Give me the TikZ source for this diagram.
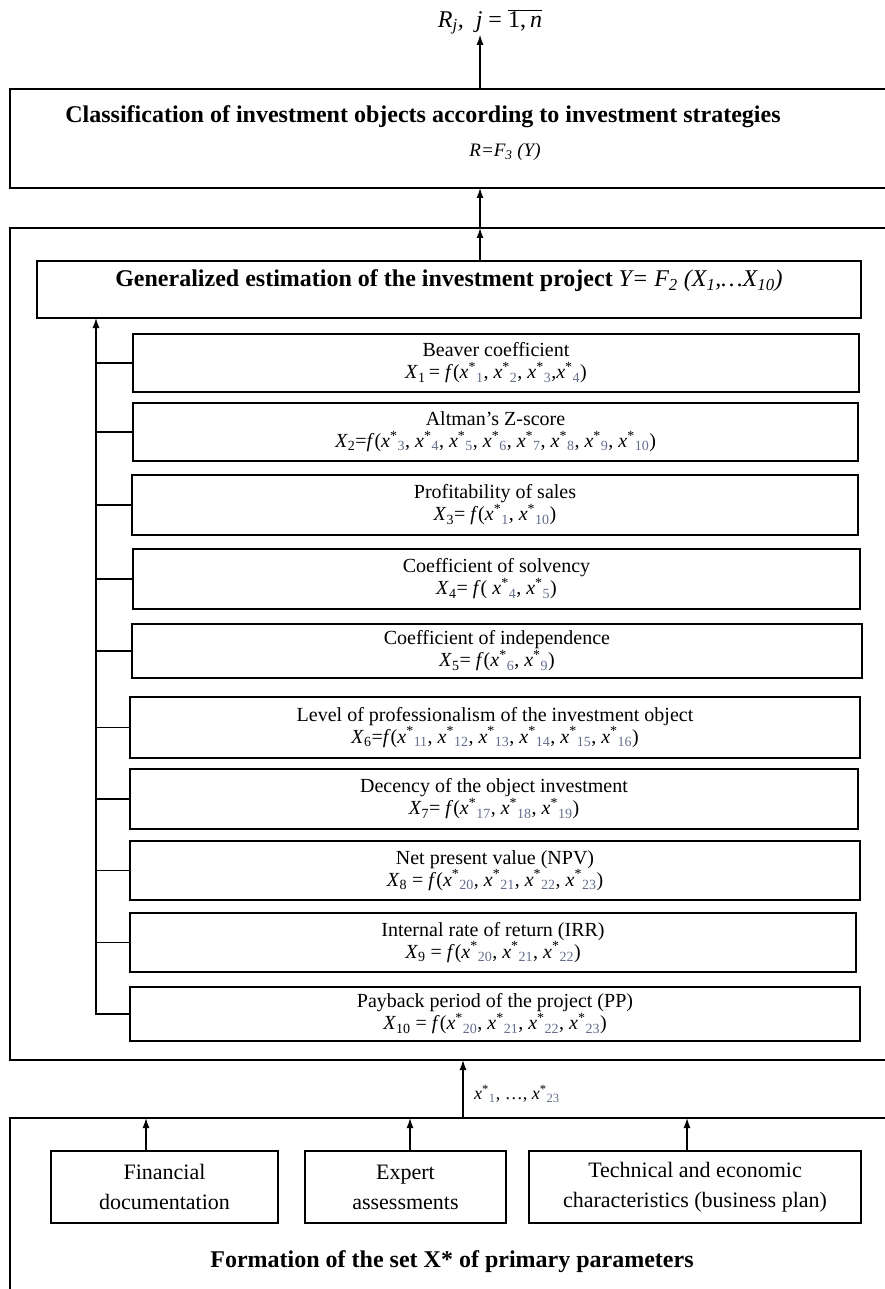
\documentclass[tikz,border=0pt]{standalone}
\usepackage{fontspec}
\setmainfont{Liberation Serif}
\usetikzlibrary{arrows.meta}
\definecolor{subgray}{RGB}{100,110,140}
\newcommand{\xs}[1]{\textit{x}\textsuperscript{*}\textsubscript{\textcolor{subgray}{#1}}}
\newcommand{\Xv}[1]{\textit{X}\textsubscript{#1}}
\newcommand{\fn}{\textit{f}}
\begin{document}
\begin{tikzpicture}[x=1pt,y=-1pt,
  outerbox/.style={draw, line width=2.6pt, anchor=north west, inner sep=0pt, outer sep=0pt},
  subbox/.style={draw, line width=1.4pt, anchor=north west, align=center, inner sep=1pt, outer sep=0pt,
    font=\fontsize{20}{22}\selectfont},
  srcbox/.style={draw, line width=1.4pt, anchor=north west, align=center, inner sep=1pt, outer sep=0pt,
    font=\fontsize{22}{30}\selectfont},
  arr/.style={line width=1.3pt, -{Latex[length=10pt,width=7pt]}},
  link/.style={line width=1.3pt},
  lbl/.style={inner sep=0pt}]
\useasboundingbox (0,0) rectangle (885,1289);

% top result label
\node[lbl, font=\fontsize{24}{26}\selectfont] (res) at (490,22)
  {\textit{R}\textsubscript{\textit{j}}\textit{,}\enspace \textit{j} = $\overline{\mbox{1,\,\textit{n}}}$};

% classification box
\node[outerbox, minimum width=890, minimum height=99] (cls) at (10,89) {};
\node[lbl, font=\fontsize{24}{26}\selectfont\bfseries] (clsT) at (423,117)
  {Classification of investment objects according to investment strategies};
\node[lbl, font=\fontsize{19}{21}\selectfont\itshape] (clsF) at (505,152) {R=F\textsubscript{3} (Y)};
\coordinate (ax) at (480,0);
\draw[arr] (cls.north -| ax) -- (res.south -| ax);

% outer estimation box
\node[outerbox, minimum width=890, minimum height=832] (est) at (10,228) {};
\draw[arr] (est.north -| ax) -- (cls.south -| ax);

\node[draw, line width=1.4pt, anchor=north west, inner sep=0pt, outer sep=0pt,
  minimum width=824, minimum height=57] (gen) at (37,261) {};
\node[lbl, font=\fontsize{24}{26}\selectfont] (genT) at (449,281)
  {\textbf{Generalized estimation of the investment project} \textit{Y= F\textsubscript{2} (X\textsubscript{1},\ldots X\textsubscript{10})}};
\draw[arr] (gen.north -| ax) -- (est.north -| ax);

% criteria boxes
\node[subbox, minimum width=726, minimum height=58] (b1) at (133,334)
  {Beaver coefficient\\ \Xv{1}\,= \fn(\xs{1}, \xs{2}, \xs{3},\xs{4})};
\node[subbox, minimum width=725, minimum height=58] (b2) at (133,403)
  {Altman's Z-score\\ \Xv{2}=\fn(\xs{3}, \xs{4},  \xs{5}, \xs{6}, \xs{7}, \xs{8}, \xs{9}, \xs{10})};
\node[subbox, minimum width=726, minimum height=60] (b3) at (132,475)
  {Profitability of sales\\ \Xv{3}= \fn(\xs{1}, \xs{10})};
\node[subbox, minimum width=727, minimum height=60] (b4) at (133,549)
  {Coefficient of solvency\\ \Xv{4}= \fn( \xs{4}, \xs{5})};
\node[subbox, minimum width=730, minimum height=54] (b5) at (132,624)
  {Coefficient of independence\\ \Xv{5}= \fn(\xs{6}, \xs{9})};
\node[subbox, minimum width=730, minimum height=61] (b6) at (130,697)
  {Level of professionalism of the investment object\\ \Xv{6}=\fn(\xs{11}, \xs{12}, \xs{13}, \xs{14}, \xs{15}, \xs{16})};
\node[subbox, minimum width=728, minimum height=60] (b7) at (130,769)
  {Decency of the object investment\\ \Xv{7}= \fn(\xs{17}, \xs{18}, \xs{19})};
\node[subbox, minimum width=730, minimum height=59] (b8) at (130,841)
  {Net present value (NPV)\\ \Xv{8} = \fn(\xs{20}, \xs{21}, \xs{22}, \xs{23})};
\node[subbox, minimum width=726, minimum height=59] (b9) at (130,913)
  {Internal rate of return (IRR)\\ \Xv{9} = \fn(\xs{20}, \xs{21}, \xs{22})};
\node[subbox, minimum width=730, minimum height=54] (b10) at (130,987)
  {Payback period of the project (PP)\\ \Xv{10} = \fn(\xs{20}, \xs{21}, \xs{22}, \xs{23})};

\coordinate (sp) at (96,0);
\foreach \b in {b1,b2,b3,b4,b5,b6,b7,b8,b9}
  \draw[link] (\b.west) -- (\b.west -| sp);
\draw[arr] (b10.west) -- (b10.west -| sp) -- (gen.south -| sp);

% formation box
\node[outerbox, minimum width=890, minimum height=190] (form) at (10,1118) {};
\coordinate (ax2) at (463,0);
\draw[arr] (form.north -| ax2) -- (est.south -| ax2);
\node[lbl, anchor=west, font=\fontsize{18}{20}\selectfont] (xl) at (474,1094) {\xs{1}, \ldots, \xs{23}};

\node[srcbox, minimum width=227, minimum height=72] (s1) at (51,1151) {Financial\\documentation};
\node[srcbox, minimum width=201, minimum height=72] (s2) at (305,1151) {Expert\\assessments};
\node[srcbox, minimum width=332, minimum height=72] (s3) at (529,1151) {Technical and economic\\characteristics (business plan)};
\draw[arr] (s1.north -| 146,0) -- (form.north -| 146,0);
\draw[arr] (s2.north -| 410,0) -- (form.north -| 410,0);
\draw[arr] (s3.north -| 687,0) -- (form.north -| 687,0);

\node[lbl, font=\fontsize{24}{26}\selectfont\bfseries] (formT) at (452,1262)
  {Formation of the set X* of primary parameters};
\end{tikzpicture}
\end{document}
